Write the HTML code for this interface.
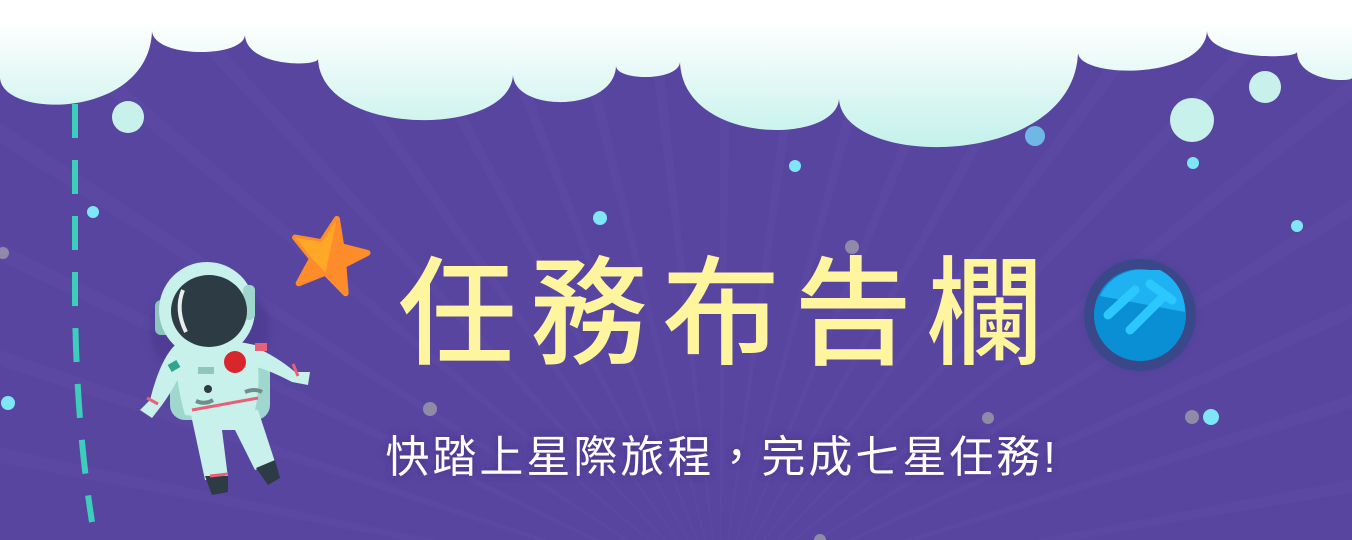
<!DOCTYPE html>
<html><head><meta charset="utf-8">
<style>
html,body{margin:0;padding:0;width:1352px;height:540px;overflow:hidden;background:#5845a0}
svg{display:block;overflow:hidden}
.t{font-family:"Liberation Sans","Noto Sans CJK TC",sans-serif}
</style></head>
<body>
<svg width="1352" height="540" viewBox="0 0 1352 540">
<defs>
<linearGradient id="cg" x1="0" y1="0" x2="0" y2="1">
<stop offset="0.15" stop-color="#ffffff"/><stop offset="1" stop-color="#c3f1ea"/>
</linearGradient>
<radialGradient id="glow" cx="0.5" cy="0.5" r="0.5">
<stop offset="0.6" stop-color="#3c3a86" stop-opacity="0.9"/><stop offset="1" stop-color="#5845a0" stop-opacity="0"/>
</radialGradient>
<filter id="sh"><feGaussianBlur stdDeviation="4"/></filter>
<clipPath id="frame"><rect x="0" y="0" width="1352" height="540"/></clipPath>
</defs>
<g clip-path="url(#frame)">
<g id="rays"></g>
<path id="cloud" fill="url(#cg)"/>
<path d="M75 104 L75 300 Q76 420 92 522" stroke="#3ccdbb" stroke-width="6" fill="none" stroke-dasharray="34 22"/>
<g>
<circle cx="128" cy="117" r="16" fill="#c8f1ec"/>
<circle cx="1192" cy="120" r="22" fill="#c8f1ec"/>
<circle cx="1265" cy="87" r="16" fill="#c8f1ec"/>
<circle cx="1035" cy="136" r="10" fill="#6fb8e6"/>
<circle cx="795" cy="166" r="6" fill="#7ee6f6"/>
<circle cx="1193" cy="163" r="6" fill="#7ee6f6"/>
<circle cx="600" cy="218" r="7" fill="#7ee6f6"/>
<circle cx="93" cy="212" r="6" fill="#7ee6f6"/>
<circle cx="1297" cy="226" r="6" fill="#7ee6f6"/>
<circle cx="8" cy="403" r="7" fill="#7ee6f6"/>
<circle cx="1211" cy="417" r="8" fill="#7ee6f6"/>
<circle cx="852" cy="247" r="7" fill="#8f8aa8"/>
<circle cx="430" cy="409" r="7" fill="#8f8aa8"/>
<circle cx="988" cy="418" r="6" fill="#8f8aa8"/>
<circle cx="1192" cy="417" r="7" fill="#8f8aa8"/>
<circle cx="3" cy="253" r="6" fill="#8f8aa8"/>
<circle cx="820" cy="540" r="6" fill="#8f8aa8"/>
</g>
<g transform="translate(329,256) rotate(12)">
<polygon points="0,-38 10,-12 37,-11 16,6 24,33 0,17 -24,33 -16,6 -37,-11 -10,-12" fill="#ff8c2a" stroke="#ff8c2a" stroke-width="6" stroke-linejoin="round"/>
<polygon points="0,-38 -10,-12 -37,-11 -16,6 0,17 0,0" fill="#ffa726"/>
</g>
<g>
<ellipse cx="210" cy="330" rx="60" ry="55" fill="#3f3282" opacity="0.4" filter="url(#sh)"/>
<rect x="155" y="300" width="20" height="35" rx="6" fill="#8cc5bd"/>
<rect x="170" y="350" width="100" height="70" rx="15" fill="#9fd7cf"/>
<path d="M175 345 Q160 360 150 400 L140 410 L152 418 L162 405 Q180 380 185 360 Z" fill="#c8f1ec"/>
<path d="M250 345 Q275 355 295 372 L310 372 L308 385 L292 382 Q270 370 250 365 Z" fill="#c8f1ec"/>
<path d="M175 345 Q210 335 255 345 Q262 380 255 410 Q220 420 185 415 Q175 380 175 345 Z" fill="#c8f1ec"/>
<path d="M190 410 L205 480 L228 478 L222 430 L235 430 L255 470 L275 462 L258 410 Z" fill="#c8f1ec"/>
<path d="M205 476 L212 495 L228 492 L228 476 Z" fill="#2d3b45"/>
<path d="M256 468 L268 485 L280 478 L275 460 Z" fill="#2d3b45"/>
<line x1="192" y1="410" x2="258" y2="398" stroke="#e9607a" stroke-width="3"/>
<line x1="147" y1="398" x2="158" y2="404" stroke="#e9607a" stroke-width="3"/>
<line x1="293" y1="364" x2="298" y2="376" stroke="#e9607a" stroke-width="3"/>
<line x1="210" y1="476" x2="228" y2="474" stroke="#e9607a" stroke-width="3"/>
<rect x="169" y="362" width="10" height="8" fill="#2fa58f" transform="rotate(-30 174 366)"/>
<rect x="255" y="343" width="12" height="8" fill="#e9607a"/>
<rect x="198" y="367" width="16" height="7" fill="#8fc6bd"/>
<circle cx="208" cy="389" r="4" fill="#2d3b45"/>
<path d="M196 401 Q205 405 213 400" stroke="#6f8f8c" stroke-width="4" fill="none"/>
<path d="M245 392 Q255 388 262 392" stroke="#6f8f8c" stroke-width="4" fill="none"/>
<circle cx="235" cy="362" r="11" fill="#d8262c"/>
<circle cx="207" cy="310" r="48" fill="#c8f1ec"/>
<rect x="243" y="285" width="12" height="35" rx="5" fill="#9fd7cf"/>
<ellipse cx="209" cy="311" rx="38" ry="36" fill="#2d3b45"/>
<path d="M183 290 Q175 310 186 332" stroke="#e8eeee" stroke-width="4" fill="none"/>
</g>
<g>
<circle cx="1140" cy="315" r="68" fill="url(#glow)"/>
<circle cx="1140" cy="315" r="56" fill="#3a4889"/>
<circle cx="1140" cy="315" r="46" fill="#0a8fd4"/>
<path d="M1100 296 A46 46 0 0 1 1135 270 L1160 270 A46 46 0 0 1 1185 312 Z" fill="#1fb2f2"/>
<path d="M1108 315 L1135 290 M1130 330 L1162 298 M1150 284 L1172 300" stroke="#2ac8ff" stroke-width="9" stroke-linecap="round"/>
</g>
<text x="728" y="355" text-anchor="middle" class="t" font-size="118" font-weight="500" fill="#fff59e" letter-spacing="14">任務布告欄</text>
<text x="722" y="472" text-anchor="middle" class="t" font-size="44" fill="#3d2f7d" letter-spacing="3" filter="url(#sh)" opacity="0.8">快踏上星際旅程，完成七星任務!</text>
<text x="722" y="472" text-anchor="middle" class="t" font-size="44" fill="#ffffff" letter-spacing="3">快踏上星際旅程，完成七星任務!</text>
</g>
</svg>
<script>
var rays=document.getElementById('rays');
for(var i=0;i<24;i++){
  var a1=Math.PI*(0.02+i*0.04), a2=a1+0.02;
  var cx=720,cy=600,R=1600;
  var p=document.createElementNS('http://www.w3.org/2000/svg','polygon');
  p.setAttribute('points',cx+','+cy+' '+(cx-R*Math.cos(a1))+','+(cy-R*Math.sin(a1))+' '+(cx-R*Math.cos(a2))+','+(cy-R*Math.sin(a2)));
  p.setAttribute('fill','#6352aa');p.setAttribute('opacity','0.25');
  
  
  rays.appendChild(p);
}
var cusps=[[0,78],[152,31],[245,35],[318,59],[513,75],[616,66],[680,62],[839,99],[1078,53],[1207,31],[1297,52],[1352,78]];
var bottoms=[103,52,62,120,102,77,129,146,70,55,78];
var d='M0 0 L0 78';
for(var k=0;k<cusps.length-1;k++){
  var x0=cusps[k][0],y0=cusps[k][1],x3=cusps[k+1][0],y3=cusps[k+1][1],yb=bottoms[k];
  var c=(8*yb-y0-y3)/6, w=x3-x0;
  d+=' C'+(x0+w*0.02)+' '+c+' '+(x3-w*0.02)+' '+c+' '+x3+' '+y3;
}
d+=' L1352 0 Z';
document.getElementById('cloud').setAttribute('d',d);
</script>
</body></html>
